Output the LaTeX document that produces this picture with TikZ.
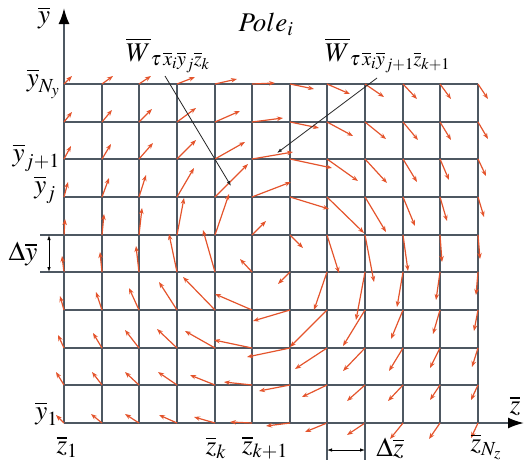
\documentclass[tikz,border=0pt]{standalone}
\usepackage{mathptmx}
\usepackage{fontspec}
\setmainfont{Liberation Serif}
\usetikzlibrary{arrows.meta}
\definecolor{gridc}{RGB}{78,88,98}
\definecolor{vecc}{RGB}{228,84,44}
\begin{document}
\begin{tikzpicture}[x=1pt,y=-1pt,
  gridline/.style={draw=gridc,line width=2pt},
  axisline/.style={draw=gridc,line width=2pt,-{Latex[length=16pt,width=11pt,color=black]}},
  vec/.style={draw=vecc,line width=1.2pt,-{Stealth[length=6pt,width=4.5pt]}},
  leader/.style={draw=black!85,line width=0.8pt,-{Latex[length=5pt,width=3.5pt]}},
  dimline/.style={draw=black,line width=0.8pt,{Latex[length=5pt,width=3.5pt]}-{Latex[length=5pt,width=3.5pt]}},
  extline/.style={draw=gridc,line width=2pt},
  lbl/.style={font=\fontsize{27}{32}\selectfont,inner sep=0pt}]
\useasboundingbox (0,0) rectangle (525,464);
% grid coordinates (snapped to whole pixels)
\foreach \xx [count=\c from 0] in {64,102,139,177,215,252,290,327,365,403,440,478}{
  \foreach \yy [count=\r from 0] in {423,385,348,310,272,235,197,159,122,84}{
    \coordinate (n-\c-\r) at (\xx,\yy);
  }
}
% grid
\foreach \c in {1,...,11} \draw[gridline] (n-\c-0) -- (n-\c-9);
\foreach \r in {1,...,9} \draw[gridline] (n-0-\r) -- (n-11-\r);
% axes
\coordinate (ytop) at (64,8);
\coordinate (zend) at (524,423);
\draw[axisline] (n-0-0) -- (ytop);
\draw[axisline] (n-0-0) -- (zend);
% vectors
\foreach \c/\r/\dx/\dy in {
 0/9/8/-8, 1/9/11/-8, 2/9/12/-8, 3/9/18/-7, 4/9/22/-5, 5/9/23/-1, 6/9/24/5, 7/9/23/10, 8/9/19/13, 9/9/14/15, 10/9/11/15, 11/9/10/15,
 0/8/8/-10, 1/8/10/-12, 2/8/13/-13, 3/8/19/-14, 4/8/25/-11, 5/8/31/-4, 6/8/29/6, 7/8/26/14, 8/8/21/17, 9/8/15/18, 10/8/11/18, 11/8/10/17,
 0/7/7/-13, 1/7/9/-15, 2/7/14/-16, 3/7/19/-19, 4/7/30/-17, 5/7/41/-7, 6/7/42/9, 7/7/31/22, 8/7/22/24, 9/7/14/23, 10/7/9/21, 11/7/8/17,
 0/6/4/-15, 1/6/7/-19, 2/6/7/-22, 3/6/17/-29, 4/6/33/-33, 5/6/39/-15, 6/6/39/12, 7/6/37/36, 8/6/21/35, 9/6/12/29, 10/6/7/24, 11/6/6/20,
 0/5/1/-16, 1/5/2/-21, 2/5/3/-27, 3/5/7/-37, 4/5/14/-41, 5/5/14/-14, 6/5/13/13, 7/5/12/38, 8/5/9/47, 9/5/5/36, 10/5/2/27, 11/5/2/24,
 0/4/-2/-16, 1/4/-2/-20, 2/4/-3/-26, 3/4/-8/-38, 4/4/-12/-42, 5/4/-12/-13, 6/4/-12/12, 7/4/-13/38, 8/4/-9/48, 9/4/-6/35, 10/4/-4/28, 11/4/-2/23,
 0/3/-4/-14, 1/3/-6/-18, 2/3/-10/-22, 3/3/-18/-28, 4/3/-32/-33, 5/3/-37/-16, 6/3/-37/11, 7/3/-37/37, 8/3/-22/36, 9/3/-12/29, 10/3/-7/24, 11/3/-4/21,
 0/2/-6/-13, 1/2/-9/-15, 2/2/-14/-18, 3/2/-20/-19, 4/2/-30/-17, 5/2/-38/-8, 6/2/-43/9, 7/2/-32/21, 8/2/-22/23, 9/2/-14/23, 10/2/-10/20, 11/2/-6/19,
 0/1/-8/-13, 1/1/-10/-13, 2/1/-14/-13, 3/1/-19/-13, 4/1/-25/-10, 5/1/-28/-3, 6/1/-31/6, 7/1/-25/12, 8/1/-18/16, 9/1/-15/16, 10/1/-10/15, 11/1/-7/15,
 0/0/-8/-8, 1/0/-11/-9, 2/0/-14/-9, 3/0/-18/-8, 4/0/-21/-6, 5/0/-22/-1, 6/0/-24/3, 7/0/-22/9, 8/0/-18/12, 9/0/-13/16, 10/0/-11/16, 11/0/-7/15}
 \draw[vec] (n-\c-\r) -- ++(\dx,\dy);
% dimension marks
\coordinate (dy1) at (40,235);
\coordinate (dy2) at (40,272);
\coordinate (dya) at (49,235);
\coordinate (dyb) at (49,272);
\draw[extline] (dy1) -- (n-0-5);
\draw[extline] (dy2) -- (n-0-4);
\draw[dimline] (dya) -- (dyb);
\coordinate (dz1) at (327,460);
\coordinate (dz2) at (365,460);
\coordinate (dza) at (327,450);
\coordinate (dzb) at (365,450);
\draw[extline] (n-7-0) -- (dz1);
\draw[extline] (n-8-0) -- (dz2);
\draw[dimline] (dza) -- (dzb);
% labels
\node[lbl] (ylab) at (44,18) {$\overline{y}$};
\node[lbl] (zlab) at (515,406) {$\overline{z}$};
\node[lbl] (pole) at (266,24) {$Pole_i$};
\node[lbl,anchor=base west] (w1) at (126,61) {$\overline{W}_{\tau\,\overline{x}_i\overline{y}_j\overline{z}_k}$};
\node[lbl,anchor=base west] (w2) at (325,61) {$\overline{W}_{\tau\,\overline{x}_i\overline{y}_{j+1}\overline{z}_{k+1}}$};
\node[lbl,anchor=east] (yny) at (60,84) {$\overline{y}_{N_y}$};
\node[lbl,anchor=east] (yj1) at (60,158) {$\overline{y}_{j+1}$};
\node[lbl,anchor=east] (yj) at (56,190) {$\overline{y}_j$};
\node[lbl] (dylab) at (23,254) {$\Delta\overline{y}$};
\node[lbl,anchor=east] (y1) at (58,414) {$\overline{y}_1$};
\node[lbl] (z1) at (67,447) {$\overline{z}_1$};
\node[lbl] (zk) at (216,448) {$\overline{z}_k$};
\node[lbl] (zk1) at (265,448) {$\overline{z}_{k+1}$};
\node[lbl] (dzlab) at (390,448) {$\Delta\overline{z}$};
\node[lbl] (znz) at (486,447) {$\overline{z}_{N_z}$};
% leaders
\coordinate (l1s) at (165,76);
\coordinate (l1e) at (231,186);
\coordinate (l2s) at (377,78);
\coordinate (l2e) at (277,153);
\draw[leader] (l1s) -- (l1e);
\draw[leader] (l2s) -- (l2e);
\end{tikzpicture}
\end{document}
